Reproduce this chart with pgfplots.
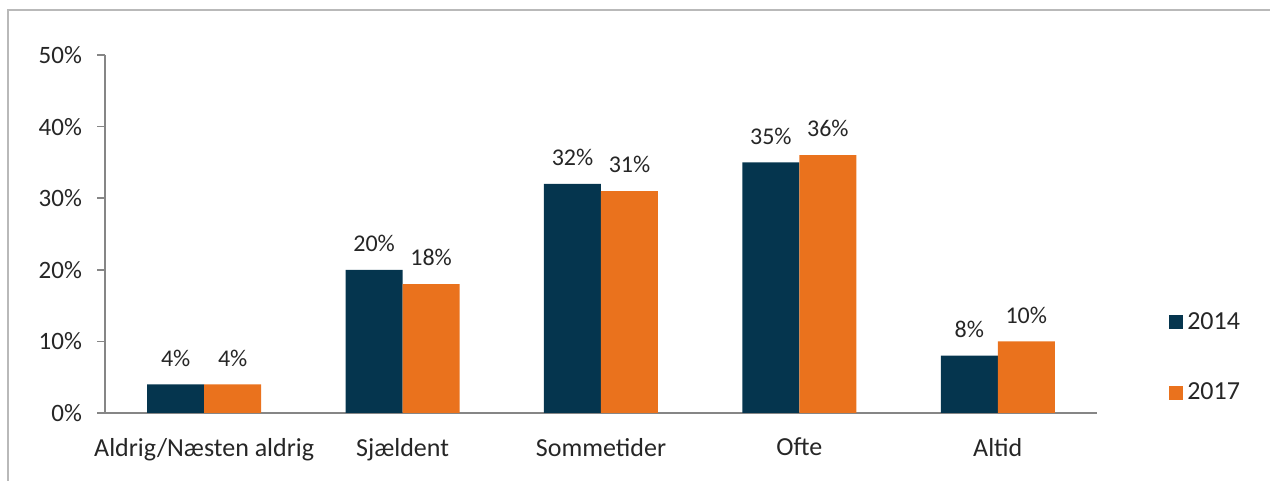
\documentclass[border=0pt]{standalone}
\usepackage{pgfplots}
\pgfplotsset{compat=1.18}
\usepackage{fontspec}
\setmainfont{Carlito}
\definecolor{navy}{RGB}{5,53,78}
\definecolor{orng}{RGB}{234,114,29}
\definecolor{txt}{RGB}{38,38,38}
\definecolor{axgray}{RGB}{134,134,134}
\begin{document}
\begin{tikzpicture}
\path[use as bounding box] (0,0) rectangle (635pt,240.5pt);
\draw[gray!55, line width=1pt] (4pt,0) |- (635pt,235.5pt);
\begin{axis}[
    at={(52.5pt,34pt)}, anchor=south west,
    scale only axis,
    width=496pt, height=179pt,
    ybar=0pt, bar width=28.5pt,
    xmin=-0.5, xmax=4.5,
    ymin=0, ymax=50,
    xtick=data,
    xticklabels={Aldrig/Næsten aldrig, Sjældent, Sommetider, Ofte, Altid},
    ytick={0,10,...,50},
    yticklabel={\pgfmathprintnumber{\tick}\%},
    axis x line*=bottom, axis y line*=left,
    axis line style={axgray, line width=0.8pt},
    x axis line style={-}, y axis line style={-},
    major x tick style={draw=none},
    major y tick style={axgray, line width=0.8pt},
    tick align=outside, major tick length=4pt,
    ticklabel style={font=\fontsize{12.5}{14}\selectfont, text=txt},
    x tick label style={font=\fontsize{13}{15}\selectfont, yshift=-5pt},
    y tick label style={xshift=-4pt},
    /pgf/number format/assume math mode=true,
    nodes near coords={\pgfmathprintnumber{\pgfplotspointmeta}\%},
    nodes near coords style={font=\fontsize{12}{14}\selectfont, text=txt, yshift=5.5pt},
    legend style={draw=none, at={(1.066,0.155)}, anchor=west,
        font=\fontsize{13}{15}\selectfont, text=txt, row sep=21.5pt,
        /tikz/every even column/.append style={column sep=2pt}},
    legend cell align=left,
    legend image code/.code={\fill[#1] (0pt,-3.6pt) rectangle (7.2pt,3.6pt);},
]
\addplot[fill=navy, draw=none] coordinates {(0,4) (1,20) (2,32) (3,35) (4,8)};
\addlegendentry{2014}
\addplot[fill=orng, draw=none] coordinates {(0,4) (1,18) (2,31) (3,36) (4,10)};
\addlegendentry{2017}
\end{axis}
\end{tikzpicture}
\end{document}
